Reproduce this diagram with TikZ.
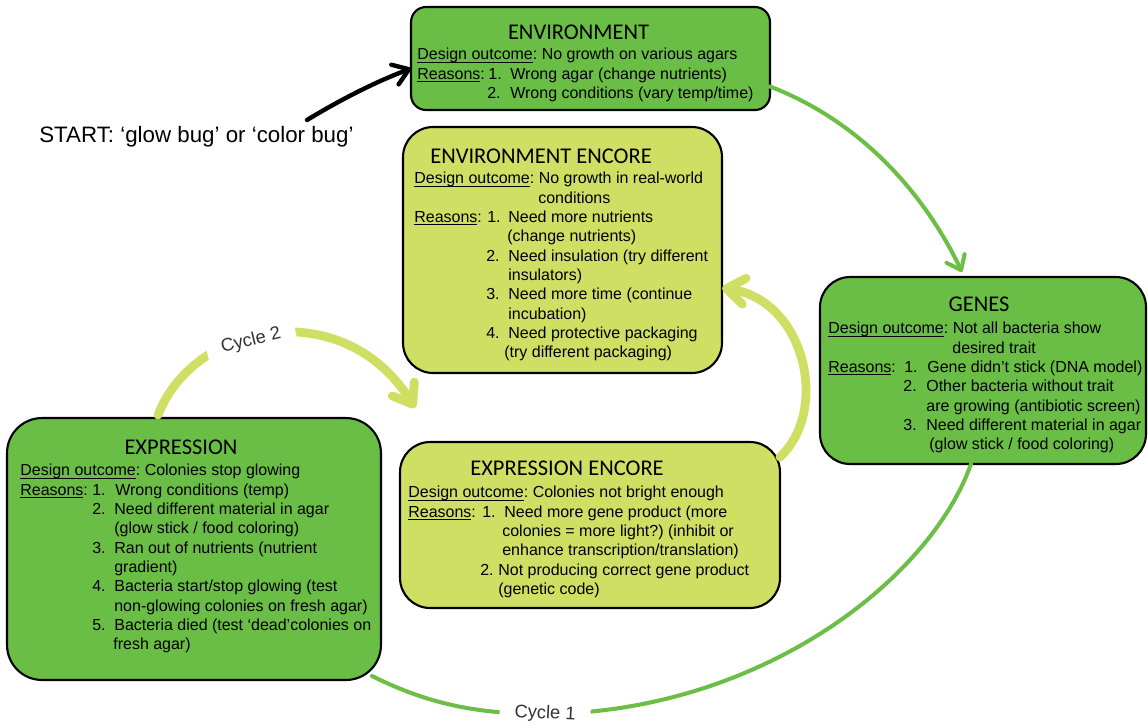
\documentclass[tikz,border=0pt]{standalone}
\usepackage{fontspec}
\setmainfont{Liberation Sans}
\newfontfamily\headfont{Carlito}
\usetikzlibrary{arrows.meta,calc}
\definecolor{leaf}{RGB}{106,189,69}
\definecolor{pale}{RGB}{207,223,99}
\definecolor{leafline}{RGB}{108,190,70}
\definecolor{cyclegray}{RGB}{50,50,50}
\newcommand{\bodysize}{\fontsize{9.1pt}{11pt}\selectfont}
\newcommand{\headsize}{\headfont\fontsize{12.8pt}{14pt}\selectfont}
\newcommand{\startsize}{\fontsize{12.7pt}{15pt}\selectfont}
\newcommand{\cyclesize}{\fontsize{10.4pt}{12pt}\selectfont}
\newlength{\pxu}\setlength{\pxu}{0.02cm}
\newsavebox{\undbox}
\newcommand{\und}[1]{\sbox{\undbox}{#1}\rlap{\rule[-1.4pt]{\wd\undbox}{0.5pt}}\usebox{\undbox}}
\newcommand{\lbl}[2]{\makebox[#1\pxu][l]{#2}}
\newcommand{\ind}[1]{\hspace*{#1\pxu}}
\begin{document}
\frenchspacing
\begin{tikzpicture}[x=0.02cm,y=-0.02cm,
  stagebox/.style={draw=black,line width=1.2pt,inner sep=0pt,outer sep=0pt},
  ttl/.style={font=\headsize,inner sep=0pt},
  txt/.style={font=\bodysize,inner sep=0pt,anchor=north west,align=left},
  greenline/.style={draw=leafline,line width=2.3pt,line cap=round},
  paleline/.style={draw=pale,line width=5pt,line cap=round},
  cyclelbl/.style={fill=white,text=cyclegray,font=\cyclesize,inner xsep=0.3cm,inner ysep=1pt}]
\useasboundingbox (0,0) rectangle (1148,727);

% stage boxes
\node[stagebox,fill=leaf,minimum width=7.18cm,minimum height=2.06cm,rounded corners=0.3cm] (env) at (590.5,58.5) {};
\node[stagebox,fill=pale,minimum width=6.38cm,minimum height=4.92cm,rounded corners=0.6cm] (envenc) at (562.5,250) {};
\node[stagebox,fill=leaf,minimum width=6.52cm,minimum height=3.74cm,rounded corners=0.6cm] (genes) at (983,370.5) {};
\node[stagebox,fill=leaf,minimum width=7.48cm,minimum height=5.24cm,rounded corners=0.7cm] (expr) at (194,549) {};
\node[stagebox,fill=pale,minimum width=7.6cm,minimum height=3.32cm,rounded corners=0.6cm] (exprenc) at (590,525) {};

%-------------------------------------
\node[ttl] (envttl) at (578.5,32) {ENVIRONMENT};
\node[txt] (envtxt) at (417,48) {\und{Design outcome}: No growth on various agars\\
\lbl{71}{\und{Reasons}:}\lbl{22}{1.}Wrong agar (change nutrients)\\
\lbl{70}{}\lbl{23}{2.}Wrong conditions (vary temp/time)};

\node[ttl] (envencttl) at (541,156) {ENVIRONMENT ENCORE};
\node[txt] (envenctxt) at (414,172) {\und{Design outcome}: No growth in real-world\\
\ind{124}conditions\\
\lbl{73}{\und{Reasons}:}\lbl{21}{1.}Need more nutrients\\
\ind{93}(change nutrients)\\
\lbl{72}{}\lbl{22}{2.}Need insulation (try different\\
\ind{94}insulators)\\
\lbl{72}{}\lbl{22}{3.}Need more time (continue\\
\ind{94}incubation)\\
\lbl{72}{}\lbl{22}{4.}Need protective packaging\\
\ind{90}(try different packaging)};

\node[ttl] (genesttl) at (979,304) {GENES};
\node[txt] (genestxt) at (828,322) {\und{Design outcome}: Not all bacteria show\\
\ind{124}desired trait\\
\lbl{76}{\und{Reasons}:}\lbl{23}{1.}Gene didn’t stick (DNA model)\\
\lbl{75}{}\lbl{23}{2.}Other bacteria without trait\\
\ind{98}are growing (antibiotic screen)\\
\lbl{75}{}\lbl{23}{3.}Need different material in agar\\
\ind{101}(glow stick / food coloring)};

\node[ttl] (exprttl) at (181,447) {EXPRESSION};
\node[txt] (exprtxt) at (20,464) {\und{Design outcome}: Colonies stop glowing\\
\lbl{72}{\und{Reasons}:}\lbl{23}{1.}Wrong conditions (temp)\\
\lbl{72}{}\lbl{22}{2.}Need different material in agar\\
\ind{94}(glow stick / food coloring)\\
\lbl{72}{}\lbl{22}{3.}Ran out of nutrients (nutrient\\
\ind{94}gradient)\\
\lbl{72}{}\lbl{22}{4.}Bacteria start/stop glowing (test\\
\ind{94}non-glowing colonies on fresh agar)\\
\lbl{72}{}\lbl{22}{5.}Bacteria died (test ‘dead’colonies on\\
\ind{93}fresh agar)};

\node[ttl] (exprencttl) at (567,468) {EXPRESSION ENCORE};
\node[txt] (exprenctxt) at (408,486) {\und{Design outcome}: Colonies not bright enough\\
\lbl{74}{\und{Reasons}:}\lbl{22}{1.}Need more gene product (more\\
\ind{94}colonies = more light?) (inhibit or\\
\ind{94}enhance transcription/translation)\\
\lbl{72}{}\lbl{18}{2.}Not producing correct gene product\\
\ind{90}(genetic code)};

%-------------------------------------
\node[font=\startsize,inner sep=0pt,anchor=base west] (start) at (39,142) {START: ‘glow bug’ or ‘color bug’};
\coordinate (startpt) at (307,120);
\draw[line width=2.5pt,line cap=round,-{Straight Barb[length=0.3cm,width=0.42cm,round]}]
  (startpt) .. controls (340,100) and (375,82) .. ($(env.west)+(0,10)$);

\draw[greenline,-{Straight Barb[length=0.26cm,width=0.4cm,round]}]
  ($(env.east)+(0,28)$) .. controls (870,125) and (930,205) .. ($(genes.north)+(-21,-5)$);

\draw[paleline,-{Straight Barb[length=0.36cm,width=0.52cm,round]}]
  ($(exprenc.north east)+(0,15)$) .. controls (830,410) and (805,300) .. ($(envenc.east)+(0,38)$);

\draw[paleline,-{Straight Barb[length=0.36cm,width=0.52cm,round]}]
  ($(expr.north)+(-36,-3)$) .. controls (195,320) and (345,295) .. ($(exprenc.north west)+(15,-34)$)
  node[cyclelbl,pos=0.42,sloped,yshift=-2pt] {Cycle 2};

\draw[greenline]
  ($(expr.south east)+(-9,-4)$) .. controls (430,705) and (480,714) .. (545,714)
  node[cyclelbl,rotate=-3] {Cycle 1}
  .. controls (760,712) and (930,580) .. ($(genes.south)+(-12,0)$);
\end{tikzpicture}
\end{document}
